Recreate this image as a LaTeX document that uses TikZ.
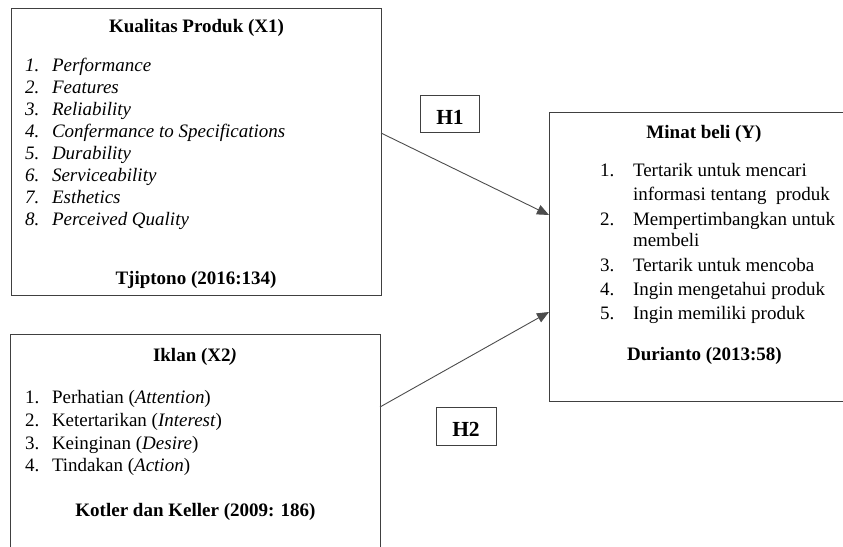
\documentclass[tikz,border=0pt]{standalone}
\usepackage{fontspec}
\setmainfont{Liberation Serif}
\usetikzlibrary{arrows.meta}
\begin{document}
\begin{tikzpicture}[x=1pt,y=1pt,
  frame/.style={draw=black!75,line width=1pt,inner sep=0pt,outer sep=0pt,rectangle},
  txt/.style={inner sep=0pt,outer sep=0pt,anchor=base west,font=\fontsize{19}{23}\selectfont},
  ttl/.style={inner sep=0pt,outer sep=0pt,anchor=base,font=\fontsize{19}{23}\selectfont\bfseries},
  hlab/.style={inner sep=0pt,outer sep=0pt,anchor=base,font=\fontsize{21.5}{25}\selectfont\bfseries},
  conn/.style={draw=black!70,line width=0.9pt,-{Triangle[length=12pt,width=10pt]}}]
\useasboundingbox (0,0) rectangle (843,546);
\clip (0,0) rectangle (843,546);
% boxes
\node[frame,minimum width=370pt,minimum height=287pt] (X1) at (196,393.5) {};
\node[frame,minimum width=370pt,minimum height=225pt] (X2) at (195,98.5) {};
\node[frame,minimum width=311pt,minimum height=289pt] (Y) at (704.5,288.5) {};
\node[frame,minimum width=59pt,minimum height=37pt] (H1) at (449.5,431.5) {};
\node[frame,minimum width=60pt,minimum height=38pt] (H2) at (466,119) {};
% H labels
\node[hlab] (h1t) at (450,421) {H1};
\node[hlab] (h2t) at (466,109) {H2};
% X1 contents
\node[ttl] (x1title) at (196.5,513) {Kualitas Produk (X1)};
\node[txt] (x1n1) at (25,474) {\itshape 1.};
\node[txt] (x1t1) at (52,474) {\itshape Performance};
\node[txt] (x1n2) at (25,452.1) {\itshape 2.};
\node[txt] (x1t2) at (52,452.1) {\itshape Features};
\node[txt] (x1n3) at (25,430.2) {\itshape 3.};
\node[txt] (x1t3) at (52,430.2) {\itshape Reliability};
\node[txt] (x1n4) at (25,408.3) {\itshape 4.};
\node[txt] (x1t4) at (52,408.3) {\itshape Confermance to Specifications};
\node[txt] (x1n5) at (25,386.4) {\itshape 5.};
\node[txt] (x1t5) at (52,386.4) {\itshape Durability};
\node[txt] (x1n6) at (25,364.5) {\itshape 6.};
\node[txt] (x1t6) at (52,364.5) {\itshape Serviceability};
\node[txt] (x1n7) at (25,342.6) {\itshape 7.};
\node[txt] (x1t7) at (52,342.6) {\itshape Esthetics};
\node[txt] (x1n8) at (25,320.7) {\itshape 8.};
\node[txt] (x1t8) at (52,320.7) {\itshape Perceived Quality};
\node[ttl] (x1src) at (196,261) {Tjiptono (2016:134)};
% X2 contents
\node[ttl] (x2title) at (195,184) {Iklan (X2\textit{)}};
\node[txt] (x2n1) at (25,142) {1.};
\node[txt] (x2t1) at (52,142) {Perhatian (\textit{Attention})};
\node[txt] (x2n2) at (25,119.3) {2.};
\node[txt] (x2t2) at (52,119.3) {Ketertarikan (\textit{Interest})};
\node[txt] (x2n3) at (25,96.7) {3.};
\node[txt] (x2t3) at (52,96.7) {Keinginan (\textit{Desire})};
\node[txt] (x2n4) at (25,74) {4.};
\node[txt] (x2t4) at (52,74) {Tindakan (\textit{Action})};
\node[ttl] (x2src) at (195.5,29) {Kotler dan Keller (2009: 186)};
% Y contents
\node[ttl] (ytitle) at (704,407) {Minat beli (Y)};
\node[txt] (yn1) at (600,369) {1.};
\node[txt] (yt1) at (633,369) {Tertarik untuk mencari};
\node[txt] (yt1b) at (633,345) {informasi tentang\ \ produk};
\node[txt] (yn2) at (600,320) {2.};
\node[txt] (yt2) at (633,320) {Mempertimbangkan untuk};
\node[txt] (yt2b) at (633,299) {membeli};
\node[txt] (yn3) at (600,274) {3.};
\node[txt] (yt3) at (633,274) {Tertarik untuk mencoba};
\node[txt] (yn4) at (600,250) {4.};
\node[txt] (yt4) at (633,250) {Ingin mengetahui produk};
\node[txt] (yn5) at (600,226) {5.};
\node[txt] (yt5) at (633,226) {Ingin memiliki produk};
\node[ttl] (ysrc) at (704.5,185) {Durianto (2013:58)};
% connectors
\draw[conn] ([yshift=19.5pt]X1.east) -- ([yshift=42.5pt]Y.west);
\draw[conn] ([yshift=40.5pt]X2.east) -- ([yshift=-54.5pt]Y.west);
\end{tikzpicture}
\end{document}
